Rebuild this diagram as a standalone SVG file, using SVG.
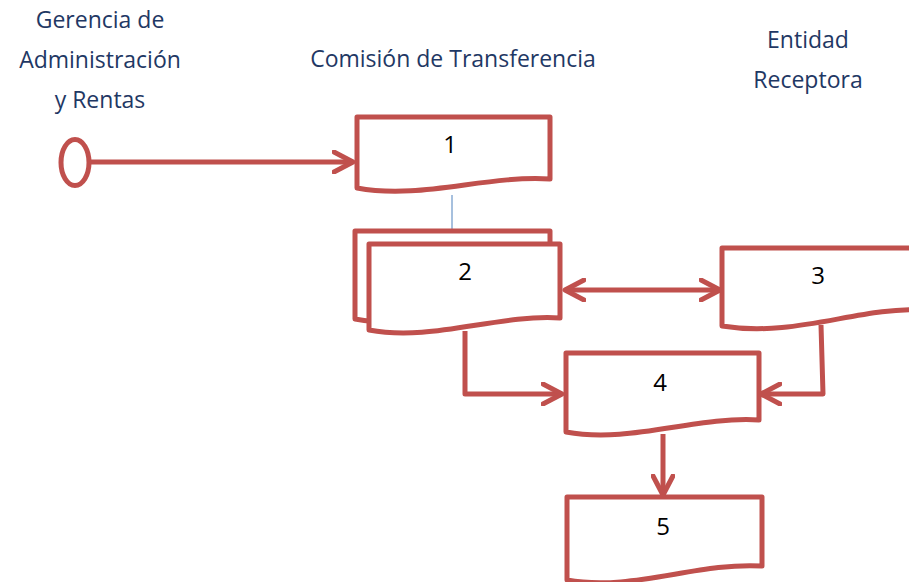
<svg xmlns="http://www.w3.org/2000/svg" width="909" height="582" viewBox="0 0 909 582">
<defs>
<style>
.box{fill:#fff;stroke:#C0504D;stroke-width:5;stroke-linejoin:round}
.con{fill:none;stroke:#C0504D;stroke-width:5;stroke-linejoin:round}
.hdr{font-family:"Open Sans","Liberation Sans",sans-serif;font-size:23px;fill:#1F3864;text-anchor:middle}
.num{font-family:"Open Sans","Liberation Sans",sans-serif;font-size:24px;fill:#000;text-anchor:middle}
</style>
<marker id="ah" viewBox="0 0 24 24" refX="21" refY="12" markerWidth="24" markerHeight="24" markerUnits="userSpaceOnUse" orient="auto-start-reverse">
<path d="M2,2 L21,12 L2,22" fill="none" stroke="#C0504D" stroke-width="5" stroke-linecap="round" stroke-linejoin="round"/>
</marker>
</defs>
<rect width="909" height="582" fill="#fff"/>
<g id="headers">
<text class="hdr" x="100" y="28">Gerencia de</text>
<text class="hdr" x="100" y="68">Administración</text>
<text class="hdr" x="100" y="108">y Rentas</text>
<text class="hdr" x="453" y="67">Comisión de Transferencia</text>
<text class="hdr" x="808" y="48">Entidad</text>
<text class="hdr" x="808" y="88">Receptora</text>
</g>
<g id="connectors">
<line x1="452" y1="195" x2="452" y2="230" stroke="#4F81BD" stroke-width="1"/>
<line class="con" x1="90" y1="162" x2="353" y2="162" marker-end="url(#ah)"/>
<line class="con" x1="565" y1="290" x2="720" y2="290" marker-start="url(#ah)" marker-end="url(#ah)"/>
<path class="con" d="M465,331 V394 H562" marker-end="url(#ah)"/>
<path class="con" d="M821,325 L823,394 H761" marker-end="url(#ah)"/>
<line class="con" x1="663" y1="434" x2="663" y2="495" marker-end="url(#ah)"/>
</g>
<g id="start">
<ellipse class="box" cx="75" cy="162.5" rx="14" ry="23"/>
</g>
<g id="node1">
<path class="box" d="M357,117 H550 V179 C485,175 421,200 357,188 Z"/>
<text class="num" x="450" y="153">1</text>
</g>
<g id="node2">
<path class="box" d="M355,231 H550 V310 C485,306 421,331 355,319 Z"/>
<path class="box" d="M369,244 H560 V318 C497,314 432,342 369,330 Z"/>
<text class="num" x="465" y="280">2</text>
</g>
<g id="node3">
<path class="box" d="M722,248 H925 V310 C860,306 796,338 722,326 Z"/>
<text class="num" x="818" y="284">3</text>
</g>
<g id="node4">
<path class="box" d="M566,353 H759 V420 C695,416 630,444 566,432 Z"/>
<text class="num" x="660" y="391">4</text>
</g>
<g id="node5">
<path class="box" d="M567,497 H762 V566 C697,562 632,592 567,580 Z"/>
<text class="num" x="663" y="535">5</text>
</g>
</svg>
